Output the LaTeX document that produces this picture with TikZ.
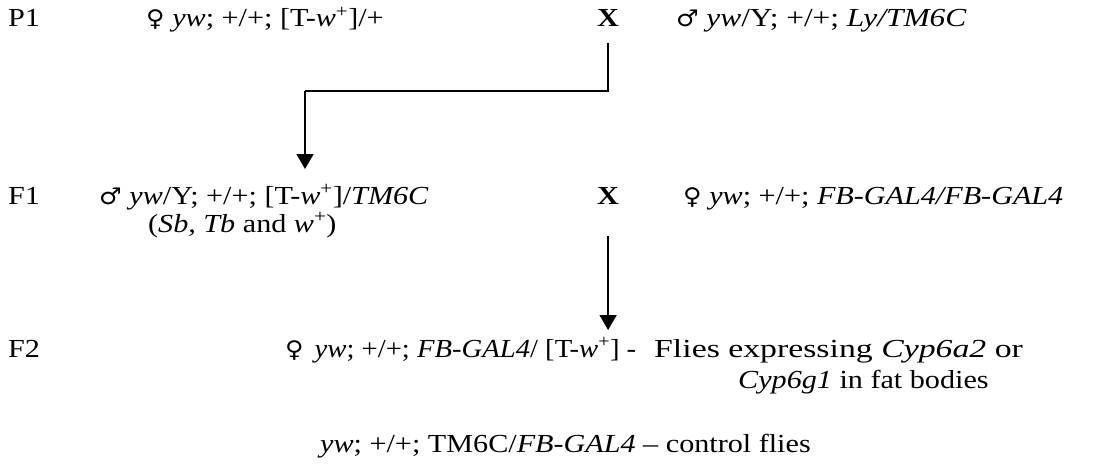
\documentclass[tikz,border=0pt]{standalone}
\usepackage{fontspec}
\usepackage{graphicx}
\setmainfont[FakeStretch=1.16]{Liberation Serif}
\newfontfamily\symfont[FakeStretch=1.1]{DejaVu Sans}
\usetikzlibrary{arrows.meta}
\newcommand{\fem}{{\symfont\fontsize{23}{27}\selectfont ♀}}
\newcommand{\mal}{{\symfont\fontsize{23}{27}\selectfont ♂}}
\newcommand{\wplus}{\textit{w}\textsuperscript{+}}
\tikzset{
  txt/.style={inner sep=0pt, anchor=base west, font=\fontsize{26}{31}\selectfont},
  cross/.style={inner sep=0pt, anchor=base west, font=\fontsize{26}{31}\selectfont\bfseries},
  arr/.style={line width=1.8pt, -{Triangle[width=17pt,length=15pt]}},
  ln/.style={line width=1.8pt}
}
\begin{document}
\begin{tikzpicture}[x=1pt,y=1pt]
\useasboundingbox (0,0) rectangle (1094,-468);
% P1
\node[txt] (p1) at (8,-27) {P1};
\node[txt] (p1f) at (146,-27) {\fem\ \textit{yw}; +/+; [T-\wplus]/+};
\node[cross] (x1) at (597,-27) {X};
\node[txt] (p1m) at (676,-27) {\mal\ \scalebox{1.04}[1]{\textit{yw}/Y; +/+; \textit{Ly/TM6C}}};
% F1
\node[txt] (f1) at (8,-204) {F1};
\node[txt] (f1m) at (99,-204) {\mal\ \textit{yw}/Y; +/+; [T-\wplus]/\textit{TM6C}};
\node[txt] (f1s) at (148,-232) {(\textit{Sb, Tb} and \wplus)};
\node[cross] (x2) at (597,-204) {X};
\node[txt] (f1f) at (683,-204) {\fem\ \textit{yw}; +/+; \textit{FB-GAL4/FB-GAL4}};
% F2
\node[txt] (f2) at (8,-357) {F2};
\node[txt] (f2f) at (285,-357) {\fem\hspace{11pt}\scalebox{0.95}[1]{\textit{yw}; +/+; \textit{FB-GAL4}/ [T-\wplus] -}};
\node[txt] (f2d) at (654,-357) {\scalebox{1.12}[1]{Flies expressing \textit{Cyp6a2} or}};
\node[txt] (f2e) at (738,-388) {\textit{Cyp6g1} in fat bodies};
% control
\node[txt] (ctl) at (320,-452) {\textit{yw}; +/+; TM6C/\textit{FB-GAL4} -- control flies};
% arrows
\coordinate (c1) at (x1.south |- 0,-91);
\coordinate (c2) at (305,-91);
\coordinate (t1) at (305,-169);
\draw[ln] ([yshift=-16pt]x1.south) -- (c1) -- (c2);
\draw[arr] (c2) -- (t1);
\coordinate (t2) at (x2.south |- 0,-330);
\draw[arr] ([yshift=-32pt]x2.south) -- (t2);
\end{tikzpicture}
\end{document}
